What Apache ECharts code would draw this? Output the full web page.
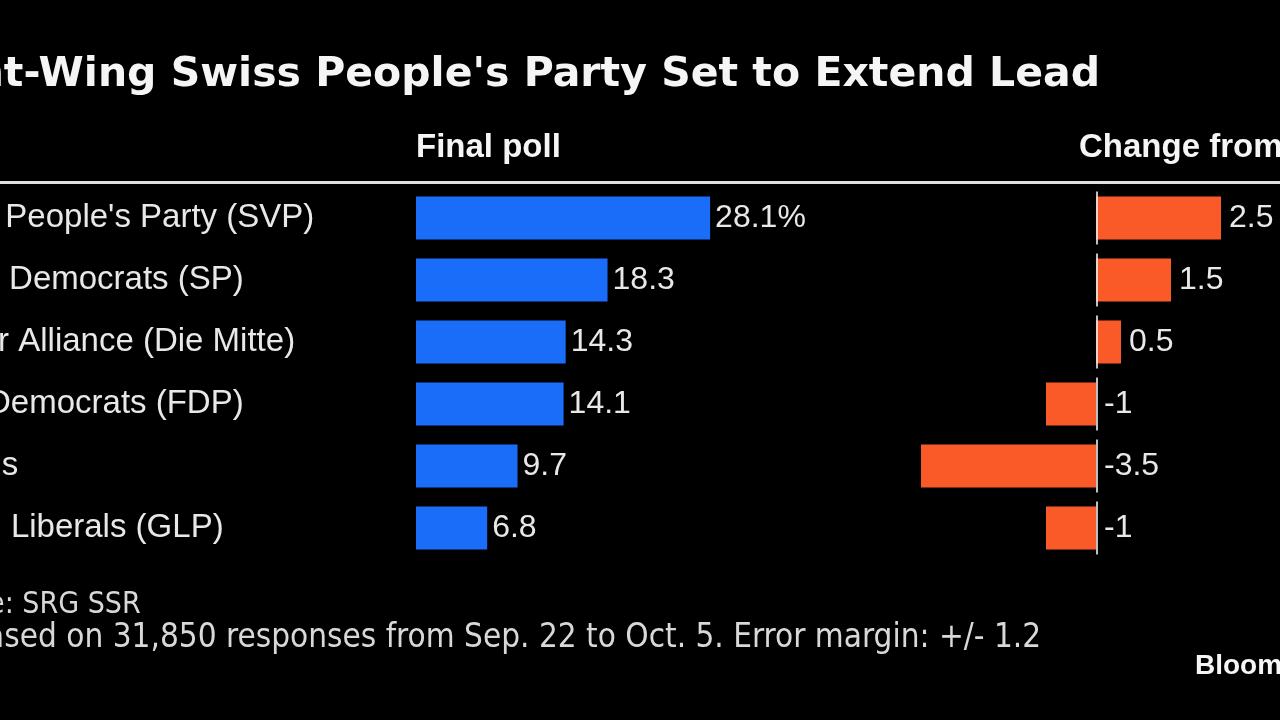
<!DOCTYPE html>
<html>
<head>
<meta charset="utf-8">
<script src="https://cdn.jsdelivr.net/npm/echarts@6/dist/echarts.min.js"></script>
<style>
html,body{margin:0;padding:0;background:#000;overflow:hidden;}
#chart{width:1280px;height:720px;}
</style>
</head>
<body>
<div id="chart"></div>
<script>
const parties = ["Swiss People's Party (SVP)", "Social Democrats (SP)", "Center Alliance (Die Mitte)", "Free Democrats (FDP)", "Greens", "Green Liberals (GLP)"];
const finalPoll = [28.1, 18.3, 14.3, 14.1, 9.7, 6.8];
const change2019 = [2.5, 1.5, 0.5, -1, -3.5, -1];
const zeroBase = [0, 0, 0, 0, 0, 0];
const titleText = "Right-Wing Swiss People's Party Set to Extend Lead";
const col1Header = "Final poll";
const col2Header = "Change from 2019";
const sourceText = "Source: SRG SSR";
const noteText = "Note: Based on 31,850 responses from Sep. 22 to Oct. 5. Error margin: +/- 1.2";
const brandText = "Bloomberg";

const chart = echarts.init(document.getElementById('chart'));
const labelFont = 'Liberation Sans, Arial, sans-serif';
chart.setOption({
  backgroundColor: '#000',
  animation: false,
  grid: [
    {left: 416, top: 187, width: 314, height: 372, containLabel: false, outerBoundsMode: 'none'},
    {left: 896, top: 187, width: 350, height: 372, containLabel: false, outerBoundsMode: 'none'}
  ],
  xAxis: [
    {gridIndex: 0, type: 'value', min: 0, max: 30, show: false},
    {gridIndex: 1, type: 'value', min: -4, max: 3, show: false}
  ],
  yAxis: [
    {gridIndex: 0, type: 'category', data: parties, inverse: true,
     axisLine: {show: false}, axisTick: {show: false}, splitLine: {show: false},
     axisLabel: {align: 'left', margin: 506, color: '#e8e8e8', fontSize: 33, fontFamily: labelFont, verticalAlign: 'middle', lineHeight: 33, padding: [0,0,8,0]}},
    {gridIndex: 1, type: 'category', data: parties, inverse: true, show: false}
  ],
  series: [
    {type: 'bar', xAxisIndex: 0, yAxisIndex: 0, data: finalPoll, barWidth: 43,
     itemStyle: {color: '#1A6DF8'},
     label: {show: true, position: 'right', distance: 5, color: '#e8e8e8', fontSize: 32, fontFamily: labelFont,
       formatter: p => p.dataIndex === 0 ? p.value + '%' : String(p.value)}},
    {type: 'bar', xAxisIndex: 1, yAxisIndex: 1, data: change2019, barWidth: 43,
     itemStyle: {color: '#FA5A28'},
     label: {show: true, position: 'right', distance: 8, color: '#e8e8e8', fontSize: 32, fontFamily: labelFont,
       formatter: p => String(p.value)}},
    {type: 'scatter', xAxisIndex: 1, yAxisIndex: 1, data: zeroBase, symbol: 'rect', symbolSize: [2, 53],
     symbolOffset: [1, 0], itemStyle: {color: '#f0f0f0'}, z: 5, silent: true}
  ],
  graphic: [
    {type: 'text', right: 180, top: 55, style: {text: titleText, fill: '#f5f5f5', font: 'bold 41px "DejaVu Sans", sans-serif'}},
    {type: 'text', left: 416, top: 131, style: {text: col1Header, fill: '#f5f5f5', font: 'bold 33px "Liberation Sans", Arial, sans-serif'}},
    {type: 'text', left: 1079, top: 131, style: {text: col2Header, fill: '#f5f5f5', font: 'bold 33px "Liberation Sans", Arial, sans-serif'}},
    {type: 'rect', shape: {x: 0, y: 181, width: 1280, height: 3}, style: {fill: '#e0e0e0'}},
    {type: 'text', x: -88, y: 590, style: {text: sourceText, fill: '#d8d8d8', font: '30px "DejaVu Sans Condensed", "DejaVu Sans", sans-serif'}},
    {type: 'text', x: -124, y: 622, style: {text: noteText, fill: '#d8d8d8', font: '33px "DejaVu Sans Condensed", "DejaVu Sans", sans-serif'}},
    {type: 'text', x: 1195, y: 652, style: {text: brandText, fill: '#f5f5f5', font: 'bold 28px "Liberation Sans", Arial, sans-serif'}}
  ]
});
</script>
</body>
</html>
